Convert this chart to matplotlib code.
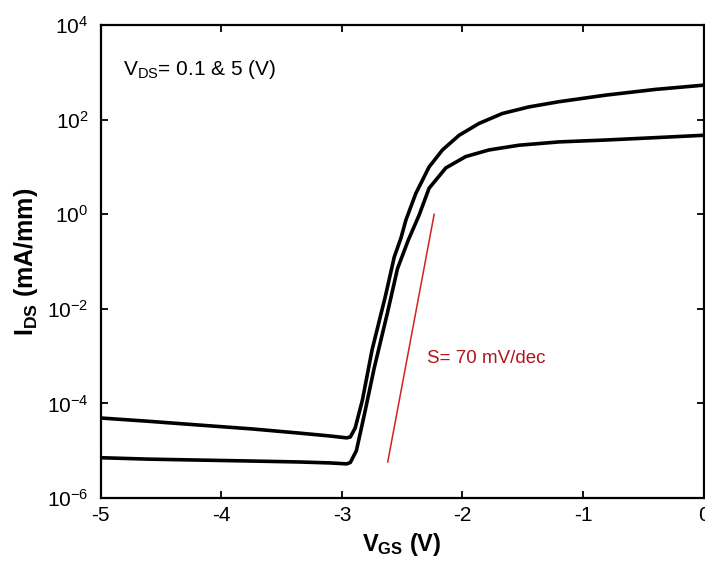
import numpy as np
import matplotlib
matplotlib.use('Agg')
import matplotlib.pyplot as plt
from matplotlib.ticker import FixedLocator, LogFormatterSciNotation

plt.rcParams['font.family'] = ['Liberation Sans', 'DejaVu Sans']
plt.rcParams['mathtext.fontset'] = 'custom'
plt.rcParams['mathtext.rm'] = 'Liberation Sans'
plt.rcParams['mathtext.it'] = 'Liberation Sans'
plt.rcParams['mathtext.bf'] = 'Liberation Sans:bold'
plt.rcParams['axes.unicode_minus'] = False

# V_DS = 5 V (upper curve), log10 of I_DS
vgs_hi = [-5.0, -4.6, -4.18, -3.75, -3.35, -3.1, -2.96, -2.93, -2.89, -2.83, -2.75,
          -2.64, -2.566, -2.51, -2.469, -2.387, -2.277, -2.166, -2.028, -1.863,
          -1.67, -1.449, -1.2, -0.81, -0.4, 0.0]
log_hi = [-4.31, -4.38, -4.46, -4.54, -4.63, -4.69, -4.73, -4.71, -4.52, -3.93, -2.87,
          -1.74, -0.905, -0.50, -0.12, 0.44, 1.00, 1.36, 1.67, 1.92,
          2.13, 2.27, 2.38, 2.52, 2.64, 2.73]

# V_DS = 0.1 V (lower curve)
vgs_lo = [-5.0, -4.6, -4.18, -3.75, -3.35, -3.1, -2.96, -2.93, -2.88, -2.815, -2.732,
          -2.622, -2.539, -2.45, -2.36, -2.277, -2.138, -1.973, -1.78, -1.531,
          -1.2, -0.81, -0.4, 0.0]
log_lo = [-5.15, -5.18, -5.20, -5.22, -5.24, -5.26, -5.28, -5.25, -5.00, -4.25, -3.25,
          -2.08, -1.15, -0.55, -0.02, 0.55, 0.98, 1.22, 1.36, 1.46,
          1.53, 1.57, 1.62, 1.67]

# subthreshold slope guide line
s_vgs = [-2.62, -2.235]
s_log = [-5.24, 0.0]

fig = plt.figure(figsize=(7.05, 5.71), dpi=100)
ax = fig.add_axes([0.143, 0.128, 0.855, 0.828])

ax.semilogy(vgs_hi, 10 ** np.array(log_hi), color='black', lw=2.6, solid_joinstyle='round')
ax.semilogy(vgs_lo, 10 ** np.array(log_lo), color='black', lw=2.6, solid_joinstyle='round')
ax.semilogy(s_vgs, 10 ** np.array(s_log), color='#d42020', lw=1.1)

ax.set_xlim(-5, 0)
ax.set_ylim(1e-6, 1e4)
ax.xaxis.set_major_locator(FixedLocator([-5, -4, -3, -2, -1, 0]))
ax.yaxis.set_major_locator(FixedLocator([1e-6, 1e-4, 1e-2, 1e0, 1e2, 1e4]))
ax.yaxis.set_minor_locator(FixedLocator([]))
ax.yaxis.set_major_formatter(LogFormatterSciNotation())

ax.tick_params(axis='both', which='major', direction='in', length=5, width=1.3,
               top=True, right=True, labelsize=15)
ax.tick_params(axis='x', pad=6)
ax.tick_params(axis='y', pad=9)
for sp in ax.spines.values():
    sp.set_linewidth(1.6)

ax.set_xlabel(r'V$_{\mathbf{GS}}$ (V)', fontsize=17, fontweight='bold', labelpad=4)
ax.set_ylabel(r'I$_{\mathbf{DS}}$ (mA/mm)', fontsize=18, fontweight='bold', labelpad=5)

ax.text(0.036, 0.894, r'V$_{\mathrm{DS}}$= 0.1 & 5 (V)', transform=ax.transAxes,
        fontsize=15, va='baseline', ha='left')
ax.text(-2.293, 10 ** -3.15, 'S= 70 mV/dec', color='#b3141c', fontsize=13.5,
        va='baseline', ha='left')

fig.savefig('out.png', dpi=100)
